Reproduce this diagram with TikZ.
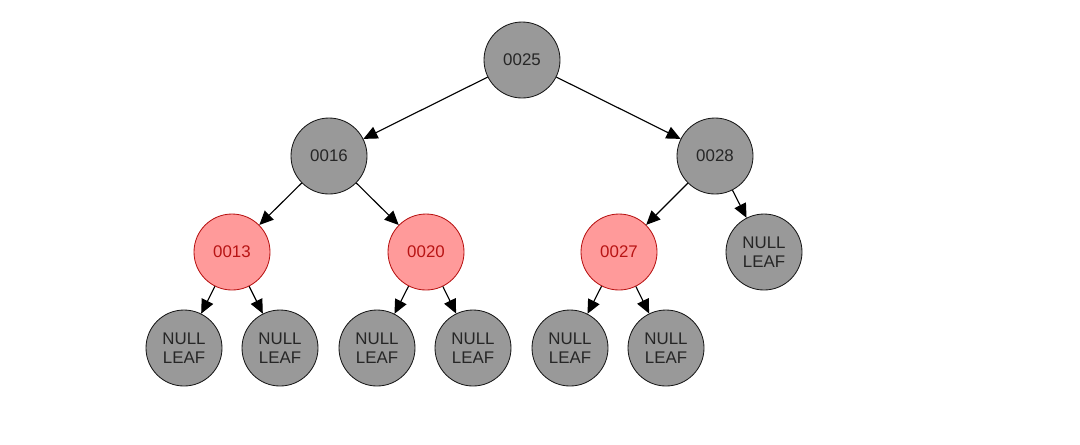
\documentclass[tikz,border=0pt]{standalone}
\usepackage{fontspec}
\setmainfont{Liberation Sans}
\usetikzlibrary{arrows.meta}

\definecolor{nodegray}{HTML}{999999}
\definecolor{redfill}{HTML}{FF9A9A}
\definecolor{redline}{HTML}{B81414}

\begin{document}
\begin{tikzpicture}[>={Triangle[length=10pt,width=9pt]},
    blk/.style={circle,draw=black!90,semithick,fill=nodegray,minimum size=1.9cm,inner sep=0pt,
      font=\fontsize{12}{13.5}\selectfont,text=black!85,align=center},
    rd/.style={blk,draw=redline,fill=redfill,text=redline},
    edge/.style={->,thick,black}]
  \useasboundingbox (0,0) rectangle (27,-11.1);
  % inner nodes
  \node[blk] (n25) at (13.05,-1.5) {0025};
  \node[blk] (n16) at (8.225,-3.9) {0016};
  \node[blk] (n28) at (17.875,-3.9) {0028};
  \node[rd] (n13) at (5.8,-6.3) {0013};
  \node[rd] (n20) at (10.65,-6.3) {0020};
  \node[rd] (n27) at (15.475,-6.3) {0027};
  % null leaves
  \node[blk] (l28) at (19.1,-6.3) {NULL\\LEAF};
  \node[blk] (l1) at (4.6,-8.7) {NULL\\LEAF};
  \node[blk] (l2) at (7.0,-8.7) {NULL\\LEAF};
  \node[blk] (l3) at (9.425,-8.7) {NULL\\LEAF};
  \node[blk] (l4) at (11.825,-8.7) {NULL\\LEAF};
  \node[blk] (l5) at (14.25,-8.7) {NULL\\LEAF};
  \node[blk] (l6) at (16.65,-8.7) {NULL\\LEAF};
  % edges
  \draw[edge] (n25) -- (n16);
  \draw[edge] (n25) -- (n28);
  \draw[edge] (n16) -- (n13);
  \draw[edge] (n16) -- (n20);
  \draw[edge] (n28) -- (n27);
  \draw[edge] (n28) -- (l28);
  \draw[edge] (n13) -- (l1);
  \draw[edge] (n13) -- (l2);
  \draw[edge] (n20) -- (l3);
  \draw[edge] (n20) -- (l4);
  \draw[edge] (n27) -- (l5);
  \draw[edge] (n27) -- (l6);
\end{tikzpicture}
\end{document}
